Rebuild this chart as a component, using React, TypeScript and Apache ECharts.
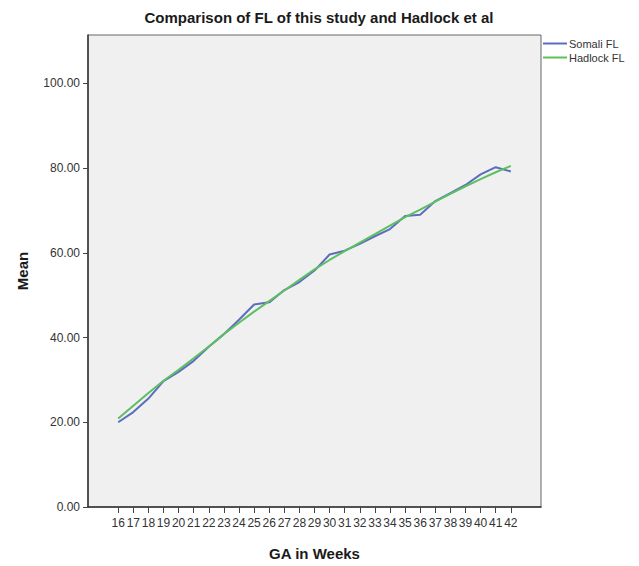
import React, { useEffect, useRef } from "react";
import * as echarts from "echarts";

const weeks = [16, 17, 18, 19, 20, 21, 22, 23, 24, 25, 26, 27, 28, 29, 30, 31, 32, 33, 34, 35, 36, 37, 38, 39, 40, 41, 42];
const somaliFL = [20.0, 22.4, 25.6, 29.7, 31.9, 34.5, 37.8, 40.8, 44.2, 47.8, 48.3, 51.2, 53.1, 55.8, 59.6, 60.5, 62.1, 63.9, 65.6, 68.7, 69.0, 72.2, 74.1, 76.0, 78.5, 80.2, 79.2];
const hadlockFL = [20.9, 23.9, 26.9, 29.8, 32.4, 35.1, 37.9, 40.8, 43.5, 46.1, 48.6, 51.1, 53.6, 56.1, 58.3, 60.4, 62.4, 64.4, 66.4, 68.4, 70.2, 72.1, 73.9, 75.7, 77.4, 79.0, 80.5];
const yTicks = [0, 20, 40, 60, 80, 100];
const seriesNames = ["Somali FL", "Hadlock FL"];
const title = "Comparison of FL of this study and Hadlock et al";

export default function App() {
  const ref = useRef<HTMLDivElement>(null);
  useEffect(() => {
    if (!ref.current) return;
    const chart = echarts.init(ref.current, null, { renderer: "svg" });
    const pad = 2;
    const cats: string[] = [];
    for (let w = weeks[0] - pad; w <= weeks[weeks.length - 1] + pad; w++) cats.push(String(w));
    const first = weeks[0];
    const last = weeks[weeks.length - 1];
    const inRange = (v: string) => Number(v) >= first && Number(v) <= last;
    const toData = (vals: number[]) => cats.map((c) => {
      const i = weeks.indexOf(Number(c));
      return i >= 0 ? vals[i] : null;
    });
    const font = "Liberation Sans, Arial, sans-serif";
    chart.setOption({
      animation: false,
      backgroundColor: "#ffffff",
      textStyle: { fontFamily: font },
      title: {
        text: title,
        left: 314,
        textAlign: "center",
        top: 5,
        textStyle: { fontSize: 15, fontWeight: "bold", color: "#1a1a1a", fontFamily: font },
      },
      legend: {
        orient: "vertical",
        left: 543,
        top: 38,
        padding: 0,
        itemWidth: 24,
        itemHeight: 2,
        itemGap: 3,
        icon: "rect",
        data: seriesNames,
        textStyle: { fontSize: 11, color: "#333", padding: [0, 0, 0, -3] },
      },
      grid: {
        left: 88,
        right: 98,
        top: 35,
        bottom: 53,
        show: true,
        backgroundColor: "#F0F0F0",
        borderColor: "#666",
        borderWidth: 1,
      },
      xAxis: {
        type: "category",
        data: cats,
        boundaryGap: false,
        name: "GA in Weeks",
        nameLocation: "middle",
        nameGap: 39,
        nameTextStyle: { fontSize: 15, fontWeight: "bold", color: "#1a1a1a" },
        axisLine: { lineStyle: { color: "#333", width: 1.5 } },
        axisTick: {
          show: true,
          length: 6,
          interval: (_i: number, v: string) => inRange(v),
          lineStyle: { color: "#444" },
        },
        axisLabel: {
          interval: (_i: number, v: string) => inRange(v),
          fontSize: 12,
          color: "#333",
          margin: 10,
        },
        splitLine: { show: false },
      },
      yAxis: {
        type: "value",
        min: 0,
        max: 111.4,
        name: "Mean",
        nameLocation: "middle",
        nameGap: 58,
        nameRotate: 90,
        nameTextStyle: { fontSize: 15, fontWeight: "bold", color: "#1a1a1a" },
        axisLine: { show: true, lineStyle: { color: "#333", width: 1.5 } },
        axisTick: { show: true, length: 5, customValues: yTicks, lineStyle: { color: "#444" } },
        axisLabel: {
          customValues: yTicks,
          formatter: (v: number) => v.toFixed(2),
          fontSize: 12,
          color: "#333",
          margin: 8,
        },
        splitLine: { show: false },
      },
      series: [
        {
          name: seriesNames[0],
          type: "line",
          data: toData(somaliFL),
          showSymbol: false,
          symbol: "none",
          lineStyle: { color: "#5E6CC0", width: 2 },
          itemStyle: { color: "#5E6CC0" },
          z: 3,
        },
        {
          name: seriesNames[1],
          type: "line",
          data: toData(hadlockFL),
          showSymbol: false,
          symbol: "none",
          lineStyle: { color: "#5CC060", width: 2 },
          itemStyle: { color: "#5CC060" },
          z: 4,
        },
      ],
    });
    return () => chart.dispose();
  }, []);
  return <div ref={ref} style={{ position: "fixed", left: 0, top: 0, width: 639, height: 566 }} />;
}
